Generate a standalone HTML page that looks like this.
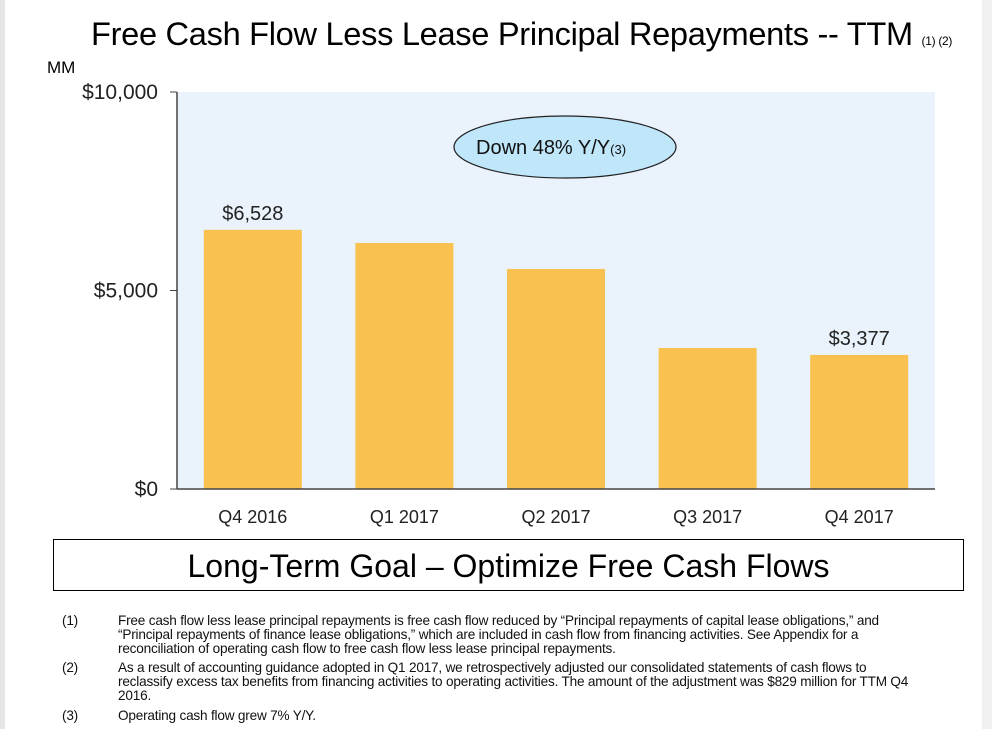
<!DOCTYPE html>
<html><head><meta charset="utf-8"><style>
body{margin:0;width:992px;height:729px;background:#fff;font-family:"Liberation Sans",Arial,sans-serif;position:relative;overflow:hidden}
.ab{position:absolute}
.fn{position:absolute;font-size:13.6px;color:#111;line-height:14px;white-space:nowrap;letter-spacing:-0.2px}
</style></head><body>
<div class="ab" style="left:0;top:0;width:5px;height:729px;background:#e6e6e6"></div>
<div class="ab" style="left:982px;top:0;width:10px;height:729px;background:#f0f0f0"></div>
<div class="ab" style="left:91px;top:15px;font-size:32.6px;white-space:nowrap;letter-spacing:-0.3px">Free Cash Flow Less Lease Principal Repayments -- TTM <span style="font-size:12px">(1) (2)</span></div>
<div class="ab" style="left:47px;top:58px;font-size:17px">MM</div>
<svg class="ab" style="left:0;top:0" width="992" height="729">
<rect x="177" y="92" width="758" height="397" fill="#eaf2fb"/>
<g id="g"></g>
</svg>
<div class="ab" style="left:53px;top:539px;width:911px;height:52px;border:1px solid #000;box-sizing:border-box;text-align:center;font-size:32px;line-height:52px">Long-Term Goal – Optimize Free Cash Flows</div>
<div class="fn" style="left:62px;top:614px">(1)</div>
<div class="fn" style="left:118px;top:614px">Free cash flow less lease principal repayments is free cash flow reduced by “Principal repayments of capital lease obligations,” and<br>“Principal repayments of finance lease obligations,” which are included in cash flow from financing activities. See Appendix for a<br>reconciliation of operating cash flow to free cash flow less lease principal repayments.</div>
<div class="fn" style="left:62px;top:661px">(2)</div>
<div class="fn" style="left:118px;top:661px">As a result of accounting guidance adopted in Q1 2017, we retrospectively adjusted our consolidated statements of cash flows to<br>reclassify excess tax benefits from financing activities to operating activities. The amount of the adjustment was $829 million for TTM Q4<br>2016.</div>
<div class="fn" style="left:62px;top:709px">(3)</div>
<div class="fn" style="left:118px;top:709px">Operating cash flow grew 7% Y/Y.</div>
<script>
const categories=["Q4 2016","Q1 2017","Q2 2017","Q3 2017","Q4 2017"];
const values=[6528,6197,5542,3552,3377];
const printed=["$6,528","","","","$3,377"];
const ticks=[0,5000,10000];
const tickLabels=["$0","$5,000","$10,000"];
const NS="http://www.w3.org/2000/svg",g=document.getElementById("g");
const X0=177,X1=935,Y0=489,Y1=92;
const y=v=>Y0-(v/10000)*(Y0-Y1);
const band=(X1-X0)/categories.length;
const xc=i=>X0+band*(i+0.5);
function mk(t,a,txt){const e=document.createElementNS(NS,t);for(const k in a)e.setAttribute(k,a[k]);if(txt!==undefined)e.textContent=txt;g.appendChild(e);return e;}
const bw=98;
values.forEach((v,i)=>{
 const r=mk("rect",{x:xc(i)-bw/2,y:y(v),width:bw,height:Y0-y(v),fill:"#f8c150"});
 
 
 const t=mk("text",{x:xc(i),y:Y0+34,"text-anchor":"middle","font-size":"18",fill:"#222"},categories[i]);
 
 
 if(printed[i]){const l=mk("text",{x:xc(i),y:y(v)-10,"text-anchor":"middle","font-size":"20",fill:"#222"},printed[i]);
 
 }
});
ticks.forEach((tv,i)=>{
 mk("line",{x1:170,x2:X0,y1:y(tv),y2:y(tv),stroke:"#444","stroke-width":1});
 const t=mk("text",{x:158,y:y(tv)+7,"text-anchor":"end","font-size":"21",fill:"#222"},tickLabels[i]);
 
 
});
const ax=mk("line",{x1:X0,x2:X0,y1:Y1,y2:Y0,stroke:"#444","stroke-width":1.5});


const bx=mk("line",{x1:X0,x2:X1,y1:Y0,y2:Y0,stroke:"#444","stroke-width":1.5});


const el=mk("ellipse",{cx:565,cy:147,rx:111,ry:31,fill:"#bfe7f9",stroke:"#222","stroke-width":1.2});


const ct=mk("text",{x:476,y:154,"font-size":"20",fill:"#111"});
ct.innerHTML='Down 48% Y/Y<tspan font-size="13">(3)</tspan>';


</script>
</body></html>
